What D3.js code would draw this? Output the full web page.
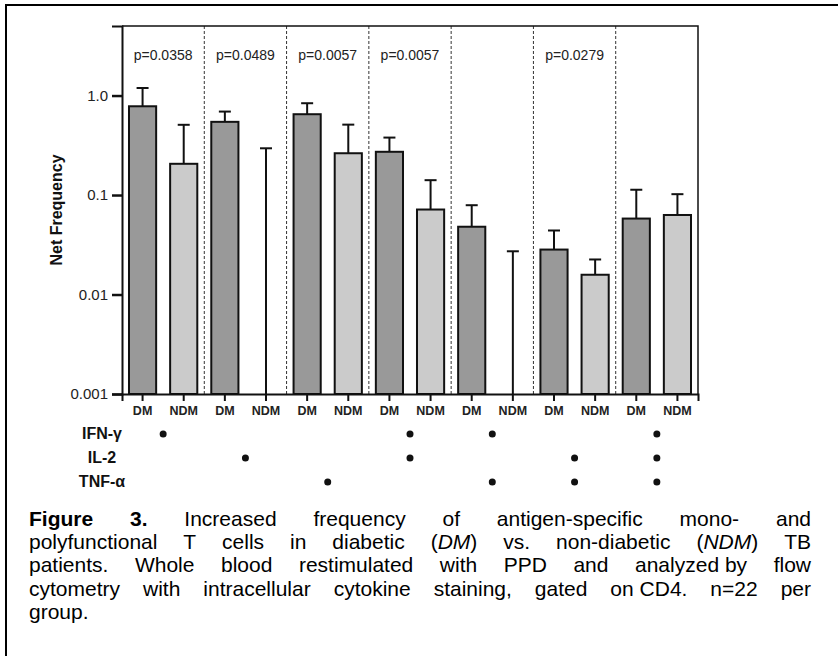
<!doctype html>
<html lang="en">
<head>
<meta charset="UTF-8">
<title>Figure 3</title>
<script src="https://cdn.jsdelivr.net/npm/d3@7/dist/d3.min.js"></script>
<style>
  html, body { margin: 0; padding: 0; background: #fff; }
  svg { display: block; font-family: "Liberation Sans", Arial, sans-serif; }
</style>
</head>
<body>
<script>
// values (net frequency, log scale)
var groups   = ["g1", "g2", "g3", "g4", "g5", "g6", "g7"];
var pLabels  = ["p=0.0358", "p=0.0489", "p=0.0057", "p=0.0057", "", "p=0.0279", ""];
var dmMean   = [0.78, 0.544, 0.649, 0.272, 0.048, 0.0283, 0.058];
var dmUpper  = [1.19, 0.69, 0.837, 0.378, 0.079, 0.044, 0.113];
var ndmMean  = [0.206, 0, 0.263, 0.0715, 0, 0.0158, 0.063];   // 0 = no bar drawn
var ndmUpper = [0.508, 0.295, 0.51, 0.141, 0.0272, 0.0225, 0.102];

var yTicks      = [0.001, 0.01, 0.1, 1];
var yTickLabels = ["0.001", "0.01", "0.1", "1.0"];

var cytokines = ["IFN-\u03b3", "IL-2", "TNF-\u03b1"];
var ifnOn = [1, 0, 0, 1, 1, 0, 1];
var il2On = [0, 1, 0, 1, 0, 1, 1];
var tnfOn = [0, 0, 1, 0, 1, 1, 1];

// caption, ** = bold, * = italic, \u00a0 = space that is not stretched
var caption = [
  "**Figure 3.** Increased frequency of antigen-specific mono- and",
  "polyfunctional T cells in diabetic (*DM*) vs. non-diabetic (*NDM*) TB",
  "patients. Whole blood restimulated with PPD and analyzed\u00a0by flow",
  "cytometry with intracellular cytokine staining, gated on\u00a0CD4. n=22 per",
  "group."
];

var W = 838, H = 656;
var plotL = 122, plotR = 698, plotT = 26, plotB = 394;

var svg = d3.select("body").append("svg").attr("width", W).attr("height", H);

// outer frame (only top and left edges show in the crop)
svg.append("path")
  .attr("d", "M6," + H + "V5H" + W)
  .attr("fill", "none").attr("stroke", "#000").attr("stroke-width", 2);

// flatten bars: DM then NDM for each group
var bars = [];
groups.forEach(function(g, i) {
  bars.push({ key: g + "-DM", label: "DM", group: g, mean: dmMean[i], upper: dmUpper[i], fill: "#999999" });
  bars.push({ key: g + "-NDM", label: "NDM", group: g, mean: ndmMean[i], upper: ndmUpper[i], fill: "#cbcbcb" });
});

var x = d3.scaleBand().domain(bars.map(function(d) { return d.key; }))
  .range([plotL, plotR]).paddingInner(0.34).paddingOuter(0.17);
var gx = d3.scaleBand().domain(groups).range([plotL, plotR]);
var y = d3.scaleLog().domain([0.001, 5]).range([plotB, plotT]);

// dashed separators between groups
svg.append("g").selectAll("line")
  .data(groups.slice(1))
  .enter().append("line")
  .attr("x1", function(d) { return gx(d); })
  .attr("x2", function(d) { return gx(d); })
  .attr("y1", plotT).attr("y2", plotB)
  .attr("stroke", "#333").attr("stroke-width", 1).attr("stroke-dasharray", "3,2");

// p values
svg.append("g").selectAll("text")
  .data(groups)
  .enter().append("text")
  .attr("x", function(d) { return gx(d) + gx.bandwidth() / 2; })
  .attr("y", 60)
  .attr("text-anchor", "middle")
  .attr("font-size", 14)
  .attr("fill", "#222")
  .text(function(d, i) { return pLabels[i]; });

// bars
svg.append("g").selectAll("rect")
  .data(bars.filter(function(d) { return d.mean > 0; }))
  .enter().append("rect")
  .attr("x", function(d) { return x(d.key); })
  .attr("width", x.bandwidth())
  .attr("y", function(d) { return y(d.mean); })
  .attr("height", function(d) { return plotB - y(d.mean); })
  .attr("fill", function(d) { return d.fill; })
  .attr("stroke", "#111").attr("stroke-width", 2);

// error bars (upper only)
var err = svg.append("g").attr("stroke", "#111").attr("stroke-width", 2);
err.selectAll("line.v")
  .data(bars)
  .enter().append("line").attr("class", "v")
  .attr("x1", function(d) { return x(d.key) + x.bandwidth() / 2; })
  .attr("x2", function(d) { return x(d.key) + x.bandwidth() / 2; })
  .attr("y1", function(d) { return d.mean > 0 ? y(d.mean) : plotB; })
  .attr("y2", function(d) { return y(d.upper); });
err.selectAll("line.c")
  .data(bars)
  .enter().append("line").attr("class", "c")
  .attr("x1", function(d) { return x(d.key) + x.bandwidth() / 2 - 6; })
  .attr("x2", function(d) { return x(d.key) + x.bandwidth() / 2 + 6; })
  .attr("y1", function(d) { return y(d.upper); })
  .attr("y2", function(d) { return y(d.upper); });

// plot box top and right
svg.append("path")
  .attr("d", "M" + plotL + "," + plotT + "H" + plotR + "V" + plotB)
  .attr("fill", "none").attr("stroke", "#111").attr("stroke-width", 1.5);

// y axis
var yAxis = svg.append("g")
  .attr("transform", "translate(" + plotL + ",0)")
  .call(d3.axisLeft(y).tickValues(yTicks).tickSize(10).tickPadding(4)
    .tickFormat(function(d, i) { return yTickLabels[i]; }));
yAxis.select(".domain").attr("stroke", "#111").attr("stroke-width", 2);
yAxis.selectAll(".tick line").attr("stroke", "#111").attr("stroke-width", 2.5);
yAxis.selectAll(".tick text").attr("font-size", 15).attr("fill", "#222")
  .attr("font-family", "'Liberation Sans', Arial, sans-serif");

// x axis
var xAxis = svg.append("g")
  .attr("transform", "translate(0," + plotB + ")")
  .call(d3.axisBottom(x).tickSize(7).tickPadding(5)
    .tickFormat(function(k) { return bars.find(function(b) { return b.key === k; }).label; }));
xAxis.select(".domain").attr("stroke", "#111").attr("stroke-width", 2);
xAxis.selectAll(".tick line").attr("stroke", "#111").attr("stroke-width", 2);
xAxis.selectAll(".tick text").attr("font-size", 12.5).attr("font-weight", "bold").attr("fill", "#222")
  .attr("font-family", "'Liberation Sans', Arial, sans-serif");

// y label
svg.append("text")
  .attr("transform", "translate(62," + ((plotT + plotB) / 2) + ") rotate(-90)")
  .attr("text-anchor", "middle")
  .attr("font-size", 16).attr("font-weight", "bold").attr("fill", "#111")
  .text("Net Frequency");

// cytokine rows
var rowOn = [ifnOn, il2On, tnfOn];
var rowY = d3.scalePoint().domain(cytokines).range([434, 482]);
svg.append("g").selectAll("text")
  .data(cytokines)
  .enter().append("text")
  .attr("x", 102)
  .attr("y", function(d) { return rowY(d) + 5; })
  .attr("text-anchor", "middle")
  .attr("font-size", 16).attr("font-weight", "bold").attr("fill", "#111")
  .text(function(d) { return d; });

var dots = [];
cytokines.forEach(function(c, r) {
  groups.forEach(function(g, i) { if (rowOn[r][i]) dots.push({ c: c, g: g }); });
});
svg.append("g").selectAll("circle")
  .data(dots)
  .enter().append("circle")
  .attr("cx", function(d) { return gx(d.g) + gx.bandwidth() / 2; })
  .attr("cy", function(d) { return rowY(d.c); })
  .attr("r", 3.5)
  .attr("fill", "#111");

// justified caption
var capLeft = 29, capRight = 811, capTop = 526, capLead = 23.2, capSize = 21;

function addWord(parent, word) {
  var t = parent.append("text").attr("font-size", capSize).attr("fill", "#000");
  // split into styled runs
  var re = /(\*\*[^*]+\*\*|\*[^*]+\*|[^*]+)/g, m;
  while ((m = re.exec(word)) !== null) {
    var s = m[0], ts = t.append("tspan");
    if (s.indexOf("**") === 0) ts.attr("font-weight", "bold").text(s.slice(2, -2));
    else if (s.indexOf("*") === 0) ts.attr("font-style", "italic").text(s.slice(1, -1));
    else ts.text(s);
  }
  return t;
}

var cap = svg.append("g");
caption.forEach(function(line, li) {
  // keep bold/italic markers intact when splitting on plain spaces
  var words = line.replace(/\*\*Figure 3\.\*\*/, "**Figure**\u0001**3.**").split(/[ \u0001]/);
  var ly = capTop + li * capLead;
  var nodes = words.map(function(w) { return addWord(cap, w).attr("y", ly); });
  var widths = nodes.map(function(n) { return n.node().getComputedTextLength(); });
  var total = d3.sum(widths);
  var last = li === caption.length - 1;
  var gap = last ? capSize * 0.28 : (capRight - capLeft - total) / (words.length - 1);
  var cx = capLeft;
  nodes.forEach(function(n, i) {
    n.attr("x", cx);
    cx += widths[i] + gap;
  });
});
</script>
</body>
</html>
